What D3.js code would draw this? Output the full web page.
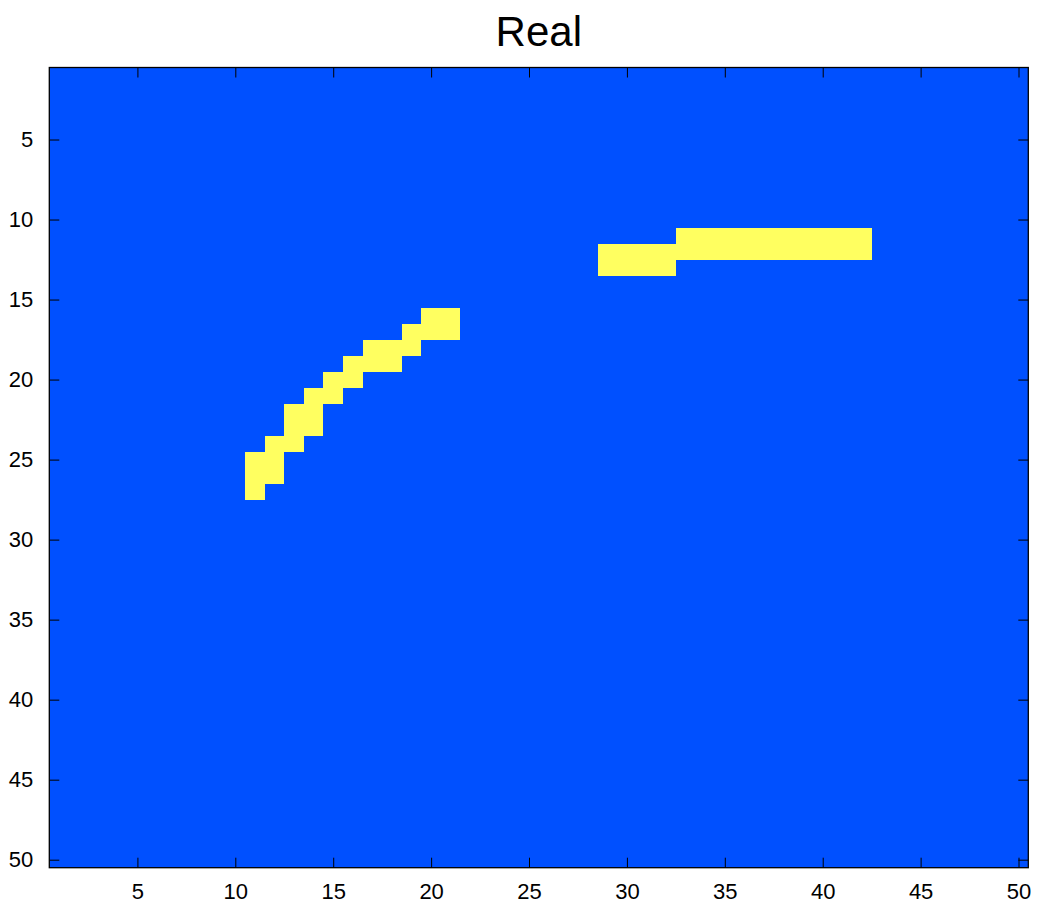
<!DOCTYPE html>
<html>
<head>
<meta charset="utf-8">
<script src="https://cdn.jsdelivr.net/npm/d3@7"></script>
<style>
  body { margin: 0; background: #fff; }
  svg text { font-family: "Liberation Sans", Arial, sans-serif; fill: #000; }
</style>
</head>
<body>
<div id="chart"></div>
<script>
// 50x50 binary image, value 1 cells listed as column -> rows
var nCols = 50, nRows = 50;
var title = "Real";
var hotCols = [11, 12, 13, 14, 15, 16, 17, 18, 19, 20, 21,
               29, 30, 31, 32, 33, 34, 35, 36, 37, 38, 39, 40, 41, 42];
var hotRows = [[25, 26, 27], [24, 25, 26], [22, 23, 24], [21, 22, 23], [20, 21], [19, 20],
               [18, 19], [18, 19], [17, 18], [16, 17], [16, 17],
               [12, 13], [12, 13], [12, 13], [12, 13], [11, 12], [11, 12], [11, 12], [11, 12],
               [11, 12], [11, 12], [11, 12], [11, 12], [11, 12], [11, 12]];
var tickVals = [5, 10, 15, 20, 25, 30, 35, 40, 45, 50];

var width = 1037, height = 903;
var margin = {top: 67.5, right: 8.7, bottom: 35.3, left: 49.3};
var iw = width - margin.left - margin.right,
    ih = height - margin.top - margin.bottom;

var cells = [];
hotCols.forEach(function(c, i) {
  hotRows[i].forEach(function(r) { cells.push({col: c, row: r}); });
});

var svg = d3.select("#chart").append("svg")
  .attr("width", width)
  .attr("height", height);

var x = d3.scaleLinear().domain([0.5, nCols + 0.5]).range([0, iw]);
var y = d3.scaleLinear().domain([0.5, nRows + 0.5]).range([0, ih]);

var g = svg.append("g")
  .attr("transform", "translate(" + margin.left + "," + margin.top + ")");

g.append("rect")
  .attr("width", iw)
  .attr("height", ih)
  .attr("fill", "#0050ff");

g.selectAll(".cell")
  .data(cells)
  .enter()
  .append("rect")
  .attr("class", "cell")
  .attr("shape-rendering", "crispEdges")
  .attr("x", function(d) { return x(d.col - 0.5); })
  .attr("y", function(d) { return y(d.row - 0.5); })
  .attr("width", function(d) { return x(d.col + 0.5) - x(d.col - 0.5); })
  .attr("height", function(d) { return y(d.row + 0.5) - y(d.row - 0.5); })
  .attr("fill", "#ffff60");

// axes, ticks inside on all four sides
var tl = 10;
function styleAxis(sel) {
  sel.select(".domain").remove();
  sel.selectAll(".tick line").attr("stroke", "#000").attr("stroke-width", 1);
  sel.selectAll(".tick text").attr("font-size", 22).attr("font-family", "Liberation Sans, Arial, sans-serif");
}

g.append("g")
  .attr("transform", "translate(0," + ih + ")")
  .call(d3.axisBottom(x).tickValues(tickVals).tickSizeInner(-tl).tickSizeOuter(0).tickPadding(16))
  .call(styleAxis);

g.append("g")
  .call(d3.axisLeft(y).tickValues(tickVals).tickSizeInner(-tl).tickSizeOuter(0).tickPadding(16))
  .call(styleAxis);

g.append("g")
  .call(d3.axisTop(x).tickValues(tickVals).tickSizeInner(-tl).tickSizeOuter(0).tickFormat(""))
  .call(styleAxis);

g.append("g")
  .attr("transform", "translate(" + iw + ",0)")
  .call(d3.axisRight(y).tickValues(tickVals).tickSizeInner(-tl).tickSizeOuter(0).tickFormat(""))
  .call(styleAxis);

g.append("rect")
  .attr("width", iw)
  .attr("height", ih)
  .attr("fill", "none")
  .attr("stroke", "#000")
  .attr("stroke-width", 1.3);

svg.append("text")
  .attr("x", margin.left + iw / 2)
  .attr("y", 46)
  .attr("text-anchor", "middle")
  .attr("font-size", 42)
  .text(title);
</script>
</body>
</html>
